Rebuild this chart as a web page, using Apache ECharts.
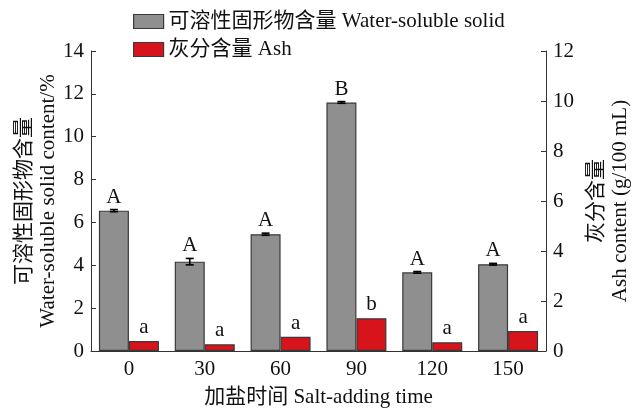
<!DOCTYPE html>
<html>
<head>
<meta charset="utf-8">
<script src="https://cdn.jsdelivr.net/npm/echarts@6/dist/echarts.min.js"></script>
<style>
  html, body { margin: 0; padding: 0; background: #fff; }
  #chart { width: 635px; height: 408px; }
</style>
</head>
<body>
<div id="chart"></div>
<script>
// Salt-adding time (min)
const categories = ['0', '30', '60', '90', '120', '150'];
// Water-soluble solid content (%) with standard deviation
const solidValues = [6.55, 4.17, 5.45, 11.60, 3.67, 4.05];
const solidErrors = [0.05, 0.15, 0.05, 0.04, 0.04, 0.04];
const solidLetters = ['A', 'A', 'A', 'B', 'A', 'A'];
// Ash content (g/100 mL)
const ashValues = [0.40, 0.27, 0.57, 1.31, 0.35, 0.80];
const ashLetters = ['a', 'a', 'a', 'b', 'a', 'a'];

const leftTicks = { min: 0, max: 14, interval: 2 };
const rightTicks = { min: 0, max: 12, interval: 2 };

const FONT = "'Liberation Serif', 'Times New Roman', 'Noto Sans CJK SC', serif";
const INK = '#111';
const AXIS = '#333';
const GRAY = '#8f8f8f';
const RED = '#d7141c';
const BAR_W = 30;

const solidName = '可溶性固形物含量 Water-soluble solid';
const ashName = '灰分含量 Ash';

const chart = echarts.init(document.getElementById('chart'), null, { renderer: 'canvas' });

const yAxisCommon = {
  type: 'value',
  nameLocation: 'middle',
  nameRotate: 90,
  nameMoveOverlap: false,
  nameTextStyle: { fontFamily: FONT, fontSize: 21, color: INK, lineHeight: 24 },
  splitLine: { show: false },
  axisLine: { show: true, lineStyle: { color: AXIS, width: 1 } },
  axisTick: { show: true, inside: true, length: 5, lineStyle: { color: AXIS } },
  axisLabel: { fontFamily: FONT, fontSize: 21, color: INK, margin: 7 }
};

chart.setOption({
  animation: false,
  backgroundColor: '#fff',
  textStyle: { fontFamily: FONT },
  legend: {
    orient: 'vertical',
    left: 128,
    top: 6,
    icon: 'rect',
    itemWidth: 30,
    itemHeight: 14,
    itemGap: 7,
    itemStyle: { borderColor: '#3a3a3a', borderWidth: 1.2 },
    textStyle: { fontFamily: FONT, fontSize: 21, color: INK },
    data: [solidName, ashName]
  },
  grid: { left: 91, right: 89, top: 51, bottom: 57, containLabel: false, outerBoundsMode: 'none' },
  xAxis: {
    type: 'category',
    data: categories,
    name: '加盐时间 Salt-adding time',
    nameLocation: 'middle',
    nameGap: 36,
    nameMoveOverlap: false,
    nameTextStyle: { fontFamily: FONT, fontSize: 21, color: INK },
    axisLine: { show: true, lineStyle: { color: AXIS, width: 1 } },
    axisTick: { show: false },
    axisLabel: { fontFamily: FONT, fontSize: 21, color: INK, margin: 8 }
  },
  yAxis: [
    Object.assign({}, yAxisCommon, leftTicks, {
      position: 'left',
      name: '可溶性固形物含量\nWater-soluble solid content/%',
      nameGap: 31
    }),
    Object.assign({}, yAxisCommon, rightTicks, {
      position: 'right',
      name: '灰分含量\nAsh content (g/100 mL)',
      nameGap: 38
    })
  ],
  series: [
    {
      name: solidName,
      type: 'bar',
      yAxisIndex: 0,
      barWidth: BAR_W,
      barGap: '0%',
      data: solidValues,
      itemStyle: { color: GRAY, borderColor: '#3a3a3a', borderWidth: 1.2 }
    },
    {
      name: ashName,
      type: 'bar',
      yAxisIndex: 1,
      barWidth: BAR_W,
      barGap: '0%',
      data: ashValues,
      itemStyle: { color: RED, borderColor: '#3a3a3a', borderWidth: 1.2 },
      label: {
        show: true,
        position: 'top',
        distance: 3,
        fontFamily: FONT,
        fontSize: 21,
        color: INK,
        formatter: p => ashLetters[p.dataIndex]
      }
    },
    {
      // error bars and significance letters for the soluble-solid bars
      name: 'solidError',
      type: 'custom',
      yAxisIndex: 0,
      z: 5,
      silent: true,
      data: solidValues.map((v, i) => [i, v, solidErrors[i]]),
      renderItem: function (params, api) {
        const i = api.value(0);
        const v = api.value(1);
        const e = api.value(2);
        const x = api.coord([i, v])[0] - BAR_W / 2;
        const yTop = api.coord([i, v + e])[1];
        const yBot = api.coord([i, v - e])[1];
        const cap = 4;
        const stroke = { stroke: '#000', lineWidth: 1.6 };
        return {
          type: 'group',
          children: [
            { type: 'line', shape: { x1: x, y1: yTop, x2: x, y2: yBot }, style: stroke },
            { type: 'line', shape: { x1: x - cap, y1: yTop, x2: x + cap, y2: yTop }, style: stroke },
            { type: 'line', shape: { x1: x - cap, y1: yBot, x2: x + cap, y2: yBot }, style: stroke },
            {
              type: 'text',
              x: x,
              y: yTop - 2,
              style: {
                text: solidLetters[params.dataIndex],
                fontFamily: FONT,
                fontSize: 21,
                fill: INK,
                align: 'center',
                verticalAlign: 'bottom'
              }
            }
          ]
        };
      }
    }
  ]
});
</script>
</body>
</html>
